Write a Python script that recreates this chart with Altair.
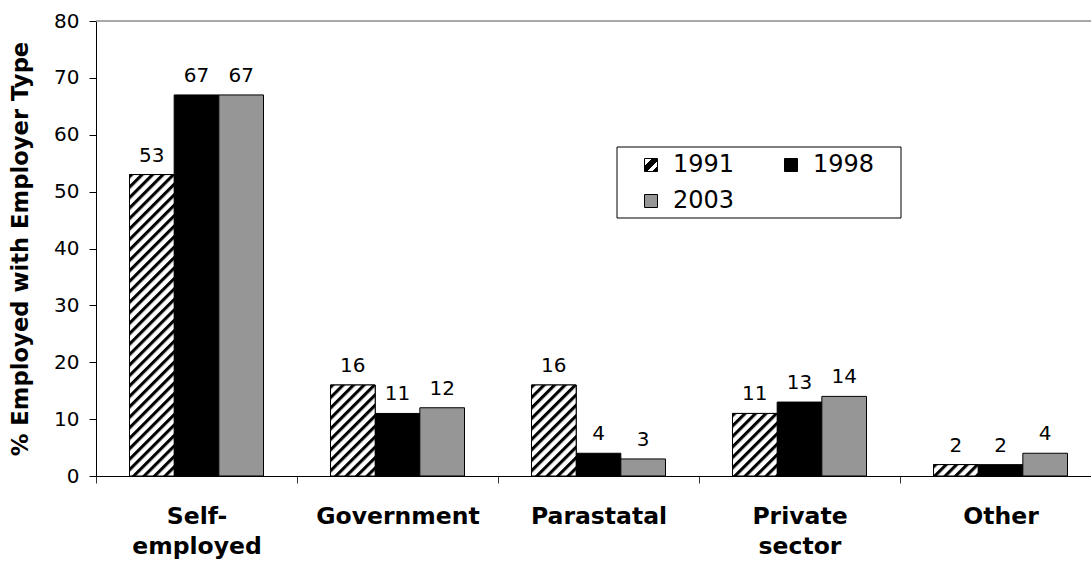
import base64

import altair as alt
import pandas as pd

# Share of employed people by employer type, per survey year
categories = ["Self-employed", "Government", "Parastatal", "Private sector", "Other"]
years = ["1991", "1998", "2003"]
share_1991 = [53, 16, 16, 11, 2]
share_1998 = [67, 11, 4, 13, 2]
share_2003 = [67, 12, 3, 14, 4]
y_ticks = [0, 10, 20, 30, 40, 50, 60, 70, 80]

rows = []
for yr, vals in zip(years, [share_1991, share_1998, share_2003]):
    for cat, v in zip(categories, vals):
        rows.append({"category": cat, "year": yr, "share": v})
df = pd.DataFrame(rows)

FONT = "DejaVu Sans"

# Diagonal hatch tile used to fill the 1991 bars
hatch_svg = (
    "<svg xmlns='http://www.w3.org/2000/svg'>"
    "<defs><pattern id='h' patternUnits='userSpaceOnUse' width='7.4' height='7.4' "
    "patternTransform='rotate(45)'>"
    "<rect x='0' y='0' width='3.1' height='7.4' fill='black'/></pattern></defs>"
    "<rect width='100%' height='100%' fill='white'/>"
    "<rect width='100%' height='100%' fill='url(#h)'/></svg>"
)
hatch_uri = "data:image/svg+xml;base64," + base64.b64encode(hatch_svg.encode()).decode()

# Striped swatch for the 1991 legend entry
swatch_expr = (
    "{gradient: 'linear', x1: 0, y1: 0, x2: 1, y2: 1, stops: ["
    "{offset: 0, color: 'white'}, {offset: 0.3, color: 'white'},"
    "{offset: 0.3, color: 'black'}, {offset: 0.58, color: 'black'},"
    "{offset: 0.58, color: 'white'}, {offset: 0.8, color: 'white'},"
    "{offset: 0.8, color: 'black'}, {offset: 1, color: 'black'}]}"
)

label_expr = (
    "datum.label == 'Self-employed' ? ['Self-', 'employed'] : "
    "datum.label == 'Private sector' ? ['Private', 'sector'] : datum.label"
)

x_enc = alt.X(
    "category:N",
    sort=categories,
    scale=alt.Scale(domain=categories, range=[0, 1005], paddingInner=0, paddingOuter=0),
    axis=alt.Axis(
        title=None,
        labelExpr=label_expr,
        labelAngle=0,
        labelFont=FONT,
        labelFontSize=23.5,
        labelFontWeight="bold",
        labelColor="black",
        labelPadding=21,
        labelLineHeight=30,
        labelOverlap=False,
        labelLimit=400,
        tickBand="extent",
        tickSize=7,
        tickColor="#333333",
        domainColor="black",
        domainWidth=1,
    ),
)
xoff_enc = alt.XOffset(
    "year:N",
    sort=years,
    scale=alt.Scale(domain=years, paddingInner=0, paddingOuter=0.75),
)
y_enc = alt.Y(
    "share:Q",
    scale=alt.Scale(domain=[0, 80], nice=False),
    axis=alt.Axis(
        values=y_ticks,
        title="% Employed with Employer Type",
        titleFont=FONT,
        titleFontSize=22.7,
        titleFontWeight="bold",
        titleColor="black",
        titlePadding=21,
        labelFont=FONT,
        labelFontSize=20,
        labelColor="black",
        labelPadding=10,
        tickSize=7,
        tickColor="black",
        domainColor="black",
        grid=False,
    ),
)

one_row = pd.DataFrame({"k": [0]})

top_line = alt.Chart(one_row).mark_rule(
    color="#8c8c8c", strokeWidth=1.5
).encode(y=alt.datum(80))

# Frame drawn behind the legend entries
legend_frame = alt.Chart(one_row).mark_rect(
    fill="white", stroke="black", strokeWidth=1
).encode(
    x=alt.value(521), x2=alt.value(805), y=alt.value(126), y2=alt.value(197)
)

bars = alt.Chart(df).mark_bar(stroke="black", strokeWidth=1).encode(
    x=x_enc,
    xOffset=xoff_enc,
    y=y_enc,
    fill=alt.Fill(
        "year:N",
        sort=years,
        scale=alt.Scale(domain=years, range=[alt.ExprRef(swatch_expr), "black", "#969696"]),
        legend=alt.Legend(
            title=None,
            orient="none",
            legendX=521,
            legendY=126,
            direction="horizontal",
            columns=2,
            labelFont=FONT,
            labelFontSize=24,
            labelColor="black",
            labelOffset=10,
            symbolType="square",
            symbolSize=169,
            symbolStrokeColor="black",
            symbolStrokeWidth=1,
            symbolOffset=16,
            columnPadding=28,
            rowPadding=12,
            padding=6,
        ),
    ),
)

hatch = alt.Chart(df).transform_filter("datum.year == '1991'").mark_image(aspect=False).encode(
    x=x_enc,
    xOffset=xoff_enc,
    y=y_enc,
    y2=alt.datum(0),
    url=alt.value(hatch_uri),
)

outline = alt.Chart(df).transform_filter("datum.year == '1991'").mark_bar(
    fillOpacity=0, stroke="black", strokeWidth=1
).encode(x=x_enc, xOffset=xoff_enc, y=y_enc)

labels = alt.Chart(df).mark_text(
    dy=-13, baseline="alphabetic", font=FONT, fontSize=20, color="black"
).encode(x=x_enc, xOffset=xoff_enc, y=y_enc, text=alt.Text("share:Q", format="d"))

chart = (
    alt.layer(top_line, legend_frame, bars, hatch, outline, labels)
    .properties(
        width=995,
        height=455,
        padding={"left": 96, "top": 21, "right": 0, "bottom": 88},
        autosize=alt.AutoSizeParams(type="none"),
        background="white",
    )
    .configure_view(strokeWidth=0)
)

chart.save("out.html", embed_options={"renderer": "svg", "actions": False})
